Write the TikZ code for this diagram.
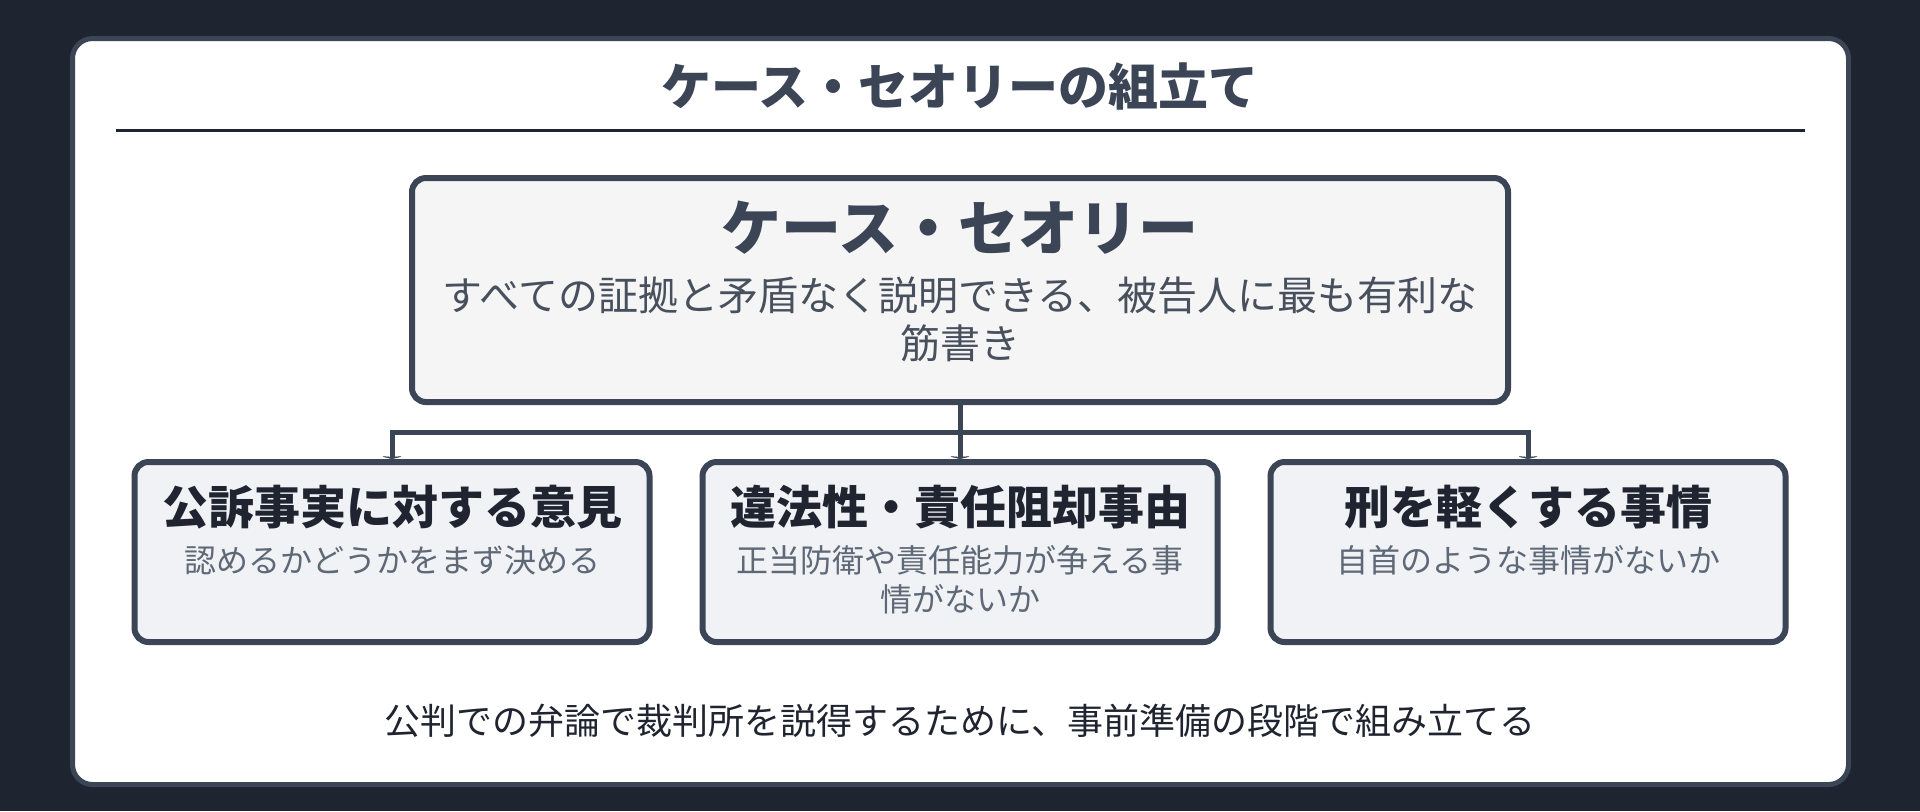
\documentclass[tikz,border=0pt]{standalone}
\usepackage{fontspec}
\setmainfont{Noto Sans CJK JP}
\usetikzlibrary{arrows.meta}

\definecolor{fundo}{RGB}{30,36,48}
\definecolor{borda}{RGB}{59,69,85}
\definecolor{escuro}{RGB}{31,36,48}
\definecolor{cinza}{RGB}{72,80,94}
\definecolor{cinzaclaro}{RGB}{94,104,118}
\definecolor{caixaA}{RGB}{245,245,246}
\definecolor{caixaB}{RGB}{240,242,245}

\begin{document}
\begin{tikzpicture}[x=0.5pt,y=-0.5pt,
  principal/.style={draw=borda, fill=caixaA, line width=3pt, rounded corners=7pt,
    minimum width=548pt, minimum height=112pt},
  filha/.style={draw=borda, fill=caixaB, line width=3pt, rounded corners=7pt,
    minimum width=257.5pt, minimum height=90pt},
  titfilha/.style={text=escuro, font=\fontsize{23pt}{27pt}\selectfont\bfseries},
  subfilha/.style={text=cinzaclaro, align=center, font=\fontsize{16pt}{19.5pt}\selectfont},
  conector/.style={draw=borda, line width=2.5pt}]

% fundo e painel
\fill[fundo] (0,0) rectangle (1920,811);
\draw[borda, fill=white, line width=2.5pt, rounded corners=10pt] (72.5,38.5) rectangle (1848.5,784.5);

% titulo
\node[text=borda, font=\fontsize{25pt}{30pt}\selectfont\bfseries] (titulo) at (960,86) {ケース・セオリーの組立て};
\draw[escuro, line width=1.5pt] (116,130.5) -- (1805,130.5);

% caixa principal
\node[principal] (teoria) at (960,290) {};
\node[text=borda, font=\fontsize{30pt}{36pt}\selectfont\bfseries] (teoriatit) at (960,228) {ケース・セオリー};
\node[text=cinza, align=center, font=\fontsize{20pt}{24pt}\selectfont] (teoriasub) at (960,319)
  {すべての証拠と矛盾なく説明できる、被告人に最も有利な\\筋書き};

% caixas filhas
\foreach \x/\nome in {392/f1, 960/f2, 1528/f3} {
  \node[filha] (\nome) at (\x,552) {};
}
\node[titfilha] (f1tit) at (392,507) {公訴事実に対する意見};
\node[subfilha] (f1sub) at (392,560) {認めるかどうかをまず決める};
\node[titfilha] (f2tit) at (960,507) {違法性・責任阻却事由};
\node[subfilha] (f2sub) at (960,580) {正当防衛や責任能力が争える事\\情がないか};
\node[titfilha] (f3tit) at (1528,507) {刑を軽くする事情};
\node[subfilha] (f3sub) at (1528,560) {自首のような事情がないか};

% conectores
\coordinate (ramo) at (960,432.5);
\draw[conector] (teoria.south) -- (ramo);
\foreach \nome in {f1, f2, f3} {
  \draw[conector, -{Stealth[length=1.5pt,width=12pt]}] (ramo) -| (\nome.north);
}

% rodape
\node[text=escuro, font=\fontsize{18pt}{22pt}\selectfont] (rodape) at (960,721)
  {公判での弁論で裁判所を説得するために、事前準備の段階で組み立てる};

\end{tikzpicture}
\end{document}
